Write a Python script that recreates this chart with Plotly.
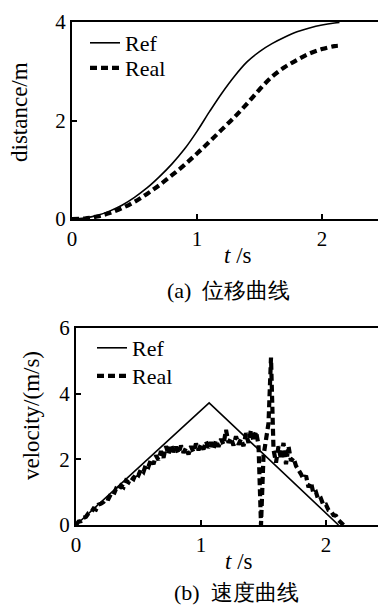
import plotly.graph_objects as go

# ---------------- data ----------------
t_dist = [0.0, 0.1, 0.2, 0.3, 0.4, 0.5, 0.6, 0.7, 0.8, 0.9, 1.0, 1.1, 1.2,
          1.3, 1.4, 1.5, 1.6, 1.7, 1.8, 1.9, 2.0, 2.1, 2.14]
dist_ref = [0.0, 0.02, 0.07, 0.16, 0.28, 0.44, 0.63, 0.86, 1.12, 1.42, 1.78,
            2.18, 2.56, 2.90, 3.19, 3.40, 3.56, 3.69, 3.80, 3.88, 3.94, 3.98, 3.99]
dist_real = [0.0, 0.01, 0.05, 0.12, 0.22, 0.35, 0.51, 0.69, 0.89, 1.10, 1.33,
             1.57, 1.82, 2.07, 2.34, 2.63, 2.89, 3.08, 3.23, 3.36, 3.45, 3.51, 3.52]

t_vref = [0.0, 1.065, 2.10]
vel_ref = [0.0, 3.72, 0.0]

vel_step = 0.02
vel_real = [0.00, 0.10, 0.12, 0.22, 0.25, 0.36, 0.38, 0.50, 0.47, 0.62,
            0.65, 0.70, 0.82, 0.80, 0.95, 0.92, 1.10, 1.05, 1.20, 1.15,
            1.35, 1.30, 1.45, 1.40, 1.58, 1.52, 1.70, 1.62, 1.85, 1.78,
            2.00, 1.85, 2.12, 1.98, 2.25, 2.05, 2.40, 2.15, 2.45, 2.22,
            2.38, 2.18, 2.42, 2.20, 2.35, 2.15, 2.40, 2.22, 2.48, 2.28,
            2.45, 2.30, 2.55, 2.35, 2.52, 2.30, 2.58, 2.38, 2.62, 2.45,
            2.90, 2.50, 2.65, 2.42, 2.70, 2.45, 2.62, 2.40, 2.80, 2.50,
            2.90, 2.55, 2.85, 2.45, 0.00, 2.10, 2.60, 3.10, 5.10, 2.30,
            1.90, 2.40, 2.00, 2.50, 1.85, 2.40, 1.95, 2.05, 1.80, 1.70,
            1.55, 1.40, 1.50, 1.15, 1.30, 0.95, 1.00, 0.75, 0.80, 0.60,
            0.62, 0.45, 0.42, 0.30, 0.28, 0.15, 0.08, 0.00]
t_vreal = [round(i * vel_step, 2) for i in range(len(vel_real))]

x_ticks = [0, 1, 2]
y_ticks_a = [0, 2, 4]
y_ticks_b = [0, 2, 4, 6]

# ---------------- figure ----------------
OFF = 8  # the page body adds an 8px margin
W, H = 386 - OFF, 605 - OFF
SERIF = "Times New Roman"

fig = go.Figure()

ref_line = dict(color="black", width=1.6)
real_line = dict(color="black", width=4.2, dash="7px,4px")

fig.add_trace(go.Scatter(x=t_dist, y=dist_ref, mode="lines", name="Ref",
                         line=dict(**ref_line, shape="spline"),
                         xaxis="x", yaxis="y", legend="legend"))
fig.add_trace(go.Scatter(x=t_dist, y=dist_real, mode="lines", name="Real",
                         line=dict(**real_line, shape="spline"),
                         xaxis="x", yaxis="y", legend="legend2"))
fig.add_trace(go.Scatter(x=t_vref, y=vel_ref, mode="lines", name="Ref",
                         line=ref_line, xaxis="x2", yaxis="y2", legend="legend3"))
fig.add_trace(go.Scatter(x=t_vreal, y=vel_real, mode="lines", name="Real",
                         line=real_line, xaxis="x2", yaxis="y2", legend="legend4"))

def px_x(p):
    return (p - OFF) / W

def px_y(p):
    return 1 - (p - OFF) / H

axis_common = dict(showline=True, linecolor="black", linewidth=2, mirror=True,
                   ticks="inside", ticklen=5, tickwidth=1.5, tickcolor="black",
                   showgrid=False, zeroline=False, automargin=False,
                   tickfont=dict(family=SERIF, size=21, color="black"))

def leg(xp, yp):
    return dict(x=px_x(xp), y=px_y(yp), xanchor="left", yanchor="middle",
                bgcolor="rgba(0,0,0,0)", borderwidth=0,
                font=dict(family=SERIF, size=22, color="black"))

fig.update_layout(
    template="none",
    width=W, height=H,
    margin=dict(l=0, r=0, t=0, b=0, pad=0),
    paper_bgcolor="white", plot_bgcolor="white",
    font=dict(family=SERIF, color="black"),
    showlegend=True,
    xaxis=dict(domain=[px_x(72), px_x(384.5)], range=[0, 2.5], tickvals=x_ticks,
               anchor="y", **axis_common),
    yaxis=dict(domain=[px_y(219), px_y(22)], range=[0, 4], tickvals=y_ticks_a,
               anchor="x", **axis_common),
    xaxis2=dict(domain=[px_x(76), 1.0], range=[0, 2.48], tickvals=x_ticks,
                anchor="y2", **axis_common),
    yaxis2=dict(domain=[px_y(525), px_y(328)], range=[0, 6], tickvals=y_ticks_b,
                anchor="x2", **axis_common),
    legend=leg(85, 43),
    legend2=leg(85, 68),
    legend3=leg(92, 348),
    legend4=leg(92, 376),
)

annotations = [
    dict(text="distance/m", x=px_x(20), y=px_y(112), textangle=-90,
         font=dict(family=SERIF, size=23)),
    dict(text="<i>t</i> /s", x=px_x(238), y=px_y(255),
         font=dict(family=SERIF, size=23)),
    dict(text="(a)  位移曲线", x=px_x(228), y=px_y(290),
         font=dict(family=SERIF, size=22)),
    dict(text="velocity/(m/s)", x=px_x(31), y=px_y(416), textangle=-90,
         font=dict(family=SERIF, size=23)),
    dict(text="<i>t</i> /s", x=px_x(239), y=px_y(561),
         font=dict(family=SERIF, size=23)),
    dict(text="(b)  速度曲线", x=px_x(236), y=px_y(592),
         font=dict(family=SERIF, size=22)),
]
for a in annotations:
    a.update(xref="paper", yref="paper", showarrow=False,
             xanchor="center", yanchor="middle")
    a["font"]["color"] = "black"
fig.update_layout(annotations=annotations)

fig.write_html("out.html")
